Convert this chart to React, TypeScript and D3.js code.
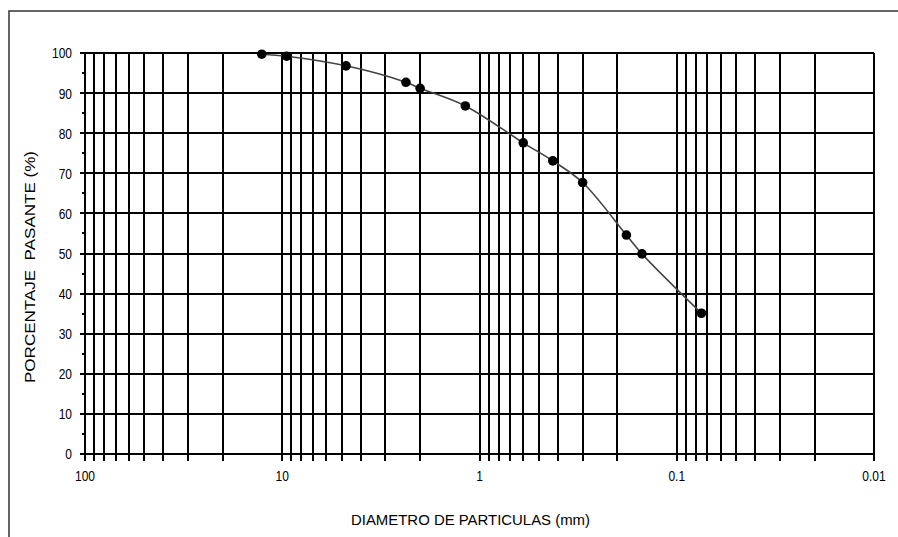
import React from "react";
import * as d3 from "d3";

const diameters = [12.7, 9.5, 4.75, 2.36, 2.0, 1.18, 0.6, 0.425, 0.3, 0.18, 0.15, 0.075];
const passing = [99.7, 99.2, 96.8, 92.7, 91.2, 86.8, 77.6, 73.1, 67.7, 54.6, 49.9, 35.1];
const xTickLabels = [100, 10, 1, 0.1, 0.01];
const yTickValues = [0, 10, 20, 30, 40, 50, 60, 70, 80, 90, 100];
const yMinorValues = [5, 15, 25, 35, 45, 55, 65, 75, 85, 95];
const yTitle = "PORCENTAJE  PASANTE (%)";
const xTitle = "DIAMETRO DE PARTICULAS (mm)";

const W = 898;
const H = 537;
const left = 85;
const right = 874;
const top = 53;
const bottom = 454;
const font = "'Liberation Sans', Arial, sans-serif";

export default function App() {
  const x = d3.scaleLog().domain([100, 0.01]).range([left, right]);
  const y = d3.scaleLinear().domain([0, 100]).range([bottom, top]);

  const gridX: number[] = [];
  for (let e = -2; e < 2; e++) {
    for (let m = 1; m < 10; m++) gridX.push(m * Math.pow(10, e));
  }
  gridX.push(100);

  const line = d3
    .line<number>()
    .x((_, i) => x(diameters[i]))
    .y((d) => y(d))
    .curve(d3.curveCatmullRom.alpha(0.5));

  const sx = 0.8;

  return (
    <svg
      width={W}
      height={H}
      style={{ position: "fixed", left: 0, top: 0, background: "#fff" }}
    >
      <rect x={0} y={0} width={W} height={H} fill="#fff" />
      <rect x={9} y={11} width={W + 20} height={H + 20} fill="none" stroke="#333" strokeWidth={1.5} />
      <g shapeRendering="crispEdges">
        {gridX.map((v, i) => (
          <line key={"gx" + i} x1={Math.round(x(v))} x2={Math.round(x(v))} y1={top} y2={bottom + 7} stroke="#000" strokeWidth={1.5} />
        ))}
        {yTickValues.map((v) => (
          <line key={"gy" + v} x1={left - 5} x2={right} y1={Math.round(y(v))} y2={Math.round(y(v))} stroke="#000" strokeWidth={1.5} />
        ))}
        {yMinorValues.map((v) => (
          <line key={"my" + v} x1={left - 3} x2={left} y1={Math.round(y(v))} y2={Math.round(y(v))} stroke="#000" strokeWidth={1.5} />
        ))}
      </g>
      {yTickValues.map((v) => (
        <text
          key={"ly" + v}
          transform={`translate(72, ${y(v)}) scale(${sx}, 1)`}
          dy="0.36em"
          textAnchor="end"
          fontFamily={font}
          fontSize={15}
          fill="#000"
        >
          {v}
        </text>
      ))}
      {xTickLabels.map((v) => (
        <text
          key={"lx" + v}
          transform={`translate(${x(v)}, 481) scale(${sx}, 1)`}
          textAnchor="middle"
          fontFamily={font}
          fontSize={15}
          fill="#000"
        >
          {String(v)}
        </text>
      ))}
      <path d={line(passing) || ""} fill="none" stroke="#444" strokeWidth={1.6} />
      {passing.map((p, i) => (
        <circle key={"pt" + i} cx={x(diameters[i])} cy={y(p)} r={4.8} fill="#000" />
      ))}
      <text
        x={470.5}
        y={525}
        textAnchor="middle"
        fontFamily={font}
        fontSize={14}
        textLength={239}
        lengthAdjust="spacingAndGlyphs"
        fill="#000"
      >
        {xTitle}
      </text>
      <text
        transform={`translate(35, 267) rotate(-90)`}
        textAnchor="middle"
        fontFamily={font}
        fontSize={14}
        textLength={232}
        lengthAdjust="spacingAndGlyphs"
        fill="#000"
        style={{ whiteSpace: "pre" }}
      >
        {yTitle}
      </text>
    </svg>
  );
}
